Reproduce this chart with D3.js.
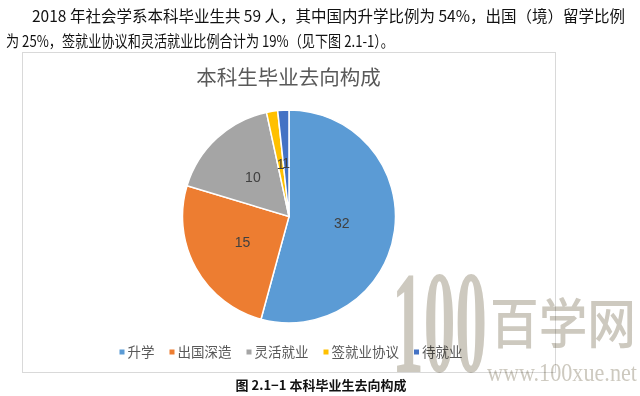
<!DOCTYPE html>
<html lang="zh">
<head>
  <meta charset="UTF-8" />
  <title>本科生毕业去向构成</title>
  <script src="https://d3js.org/d3.v7.min.js"></script>
  <style>
    html, body { margin: 0; padding: 0; background: #fff; }
    svg { display: block; }
  </style>
</head>
<body>
  <svg id="chart" width="640" height="396"></svg>

  <script>
    const categories = ["升学", "出国深造", "灵活就业", "签就业协议", "待就业"];
    const counts = [32, 15, 10, 1, 1];
    const colors = ["#5b9bd5", "#ed7d31", "#a5a5a5", "#ffc000", "#4472c4"];

    const paraLines = [
      "2018 年社会学系本科毕业生共 59 人，其中国内升学比例为 54%，出国（境）留学比例",
      "为 25%，签就业协议和灵活就业比例合计为 19%（见下图 2.1-1）。"
    ];
    const chartTitle = "本科生毕业去向构成";
    const caption = "图 2.1−1 本科毕业生去向构成";

    const cjk = "'Noto Sans CJK SC', 'Noto Sans', sans-serif";
    const svg = d3.select("#chart");

    // paragraph above the chart
    svg.append("text")
      .attr("x", 32).attr("y", 22)
      .attr("font-family", cjk).attr("font-size", 15.5).attr("fill", "#111")
      .attr("textLength", 593).attr("lengthAdjust", "spacingAndGlyphs")
      .text(paraLines[0]);
    svg.append("text")
      .attr("x", 6).attr("y", 47)
      .attr("font-family", cjk).attr("font-size", 15.5).attr("fill", "#111")
      .attr("textLength", 388).attr("lengthAdjust", "spacingAndGlyphs")
      .text(paraLines[1]);

    // chart frame
    svg.append("rect")
      .attr("x", 22.5).attr("y", 52.5)
      .attr("width", 533).attr("height", 320)
      .attr("fill", "#fff").attr("stroke", "#d9d9d9");

    svg.append("text")
      .attr("x", 288.5).attr("y", 85)
      .attr("text-anchor", "middle")
      .attr("font-family", cjk).attr("font-size", 20.5).attr("fill", "#595959")
      .text(chartTitle);

    // pie
    const cx = 289, cy = 216.5, R = 106.5;
    const data = categories.map((c, i) => ({ name: c, value: counts[i], color: colors[i] }));
    const pie = d3.pie().value(d => d.value).sort(null);
    const arc = d3.arc().innerRadius(0).outerRadius(R);
    const labelArc = d3.arc().innerRadius(R * 0.5).outerRadius(R * 0.5);

    const g = svg.append("g").attr("transform", `translate(${cx},${cy})`);
    const arcs = pie(data);

    g.selectAll("path")
      .data(arcs)
      .join("path")
      .attr("d", arc)
      .attr("fill", d => d.data.color)
      .attr("stroke", "#fff")
      .attr("stroke-width", 1.5);

    g.selectAll("text.lbl")
      .data(arcs)
      .join("text")
      .attr("class", "lbl")
      .attr("x", d => labelArc.centroid(d)[0])
      .attr("y", d => labelArc.centroid(d)[1])
      .attr("dy", "0.35em")
      .attr("text-anchor", "middle")
      .attr("font-family", "'Liberation Sans', sans-serif")
      .attr("font-size", 14)
      .attr("fill", "#404040")
      .text(d => d.data.value);

    // legend
    const legendFont = 13.5, markerSize = 5, markerGap = 3, itemGap = 15;
    const legend = svg.append("g");
    const items = legend.selectAll("g")
      .data(data)
      .join("g");
    items.append("rect")
      .attr("width", markerSize).attr("height", markerSize)
      .attr("y", -markerSize / 2)
      .attr("fill", d => d.color);
    items.append("text")
      .attr("x", markerSize + markerGap)
      .attr("dy", "0.35em")
      .attr("font-family", cjk)
      .attr("font-size", legendFont)
      .attr("fill", "#595959")
      .text(d => d.name);

    let offset = 0;
    const offsets = [];
    items.each(function () {
      const w = this.querySelector("text").getComputedTextLength();
      offsets.push(offset);
      offset += markerSize + markerGap + w + itemGap;
    });
    const totalW = offset - itemGap;
    items.attr("transform", (d, i) => `translate(${offsets[i]},0)`);
    legend.attr("transform", `translate(${291 - totalW / 2},352)`);

    // figure caption
    svg.append("text")
      .attr("x", 321).attr("y", 390)
      .attr("text-anchor", "middle")
      .attr("font-family", cjk).attr("font-size", 13).attr("font-weight", "bold")
      .attr("fill", "#111")
      .text(caption);

    // watermark
    const wm = svg.append("g").style("mix-blend-mode", "multiply").attr("fill", "#cdc9bf");
    wm.append("text")
      .attr("x", 392).attr("y", 372)
      .attr("font-family", "'Liberation Serif', serif")
      .attr("font-weight", "bold")
      .attr("font-size", 146)
      .attr("textLength", 95).attr("lengthAdjust", "spacingAndGlyphs")
      .text("100");
    wm.append("text")
      .attr("x", 490).attr("y", 344)
      .attr("font-family", cjk).attr("font-weight", 500)
      .attr("font-size", 54)
      .attr("textLength", 146).attr("lengthAdjust", "spacingAndGlyphs")
      .text("百学网");
    wm.append("text")
      .attr("x", 487).attr("y", 381)
      .attr("font-family", "'Liberation Serif', serif")
      .attr("font-size", 25)
      .attr("textLength", 150).attr("lengthAdjust", "spacingAndGlyphs")
      .text("www.100xue.net");
  </script>
</body>
</html>
